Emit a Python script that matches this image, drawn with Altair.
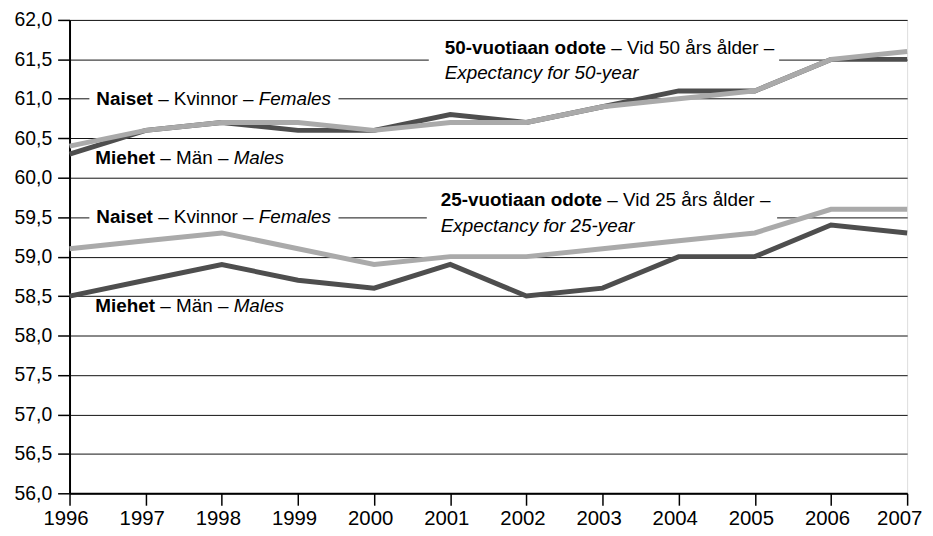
import altair as alt
import pandas as pd

years = list(range(1996, 2008))
m50 = [60.3, 60.6, 60.7, 60.6, 60.6, 60.8, 60.7, 60.9, 61.1, 61.1, 61.5, 61.5]
f50 = [60.4, 60.6, 60.7, 60.7, 60.6, 60.7, 60.7, 60.9, 61.0, 61.1, 61.5, 61.6]
f25 = [59.1, 59.2, 59.3, 59.1, 58.9, 59.0, 59.0, 59.1, 59.2, 59.3, 59.6, 59.6]
m25 = [58.5, 58.7, 58.9, 58.7, 58.6, 58.9, 58.5, 58.6, 59.0, 59.0, 59.4, 59.3]
y_ticks = [56.0 + 0.5 * i for i in range(13)]

DARK = "#4e4e4e"
LIGHT = "#aaaaaa"
FONT = "Liberation Sans"
FS = 19

rows = []
for sex, age, vals in [("m", "50", m50), ("f", "50", f50), ("m", "25", m25), ("f", "25", f25)]:
    for yr, v in zip(years, vals):
        rows.append({"year": yr, "value": v, "sex": sex, "age": age})
df = pd.DataFrame(rows)

X0, Y0 = 70, 18  # page position of plot origin
W, H = 844, 495 - Y0

xs = alt.Scale(domain=[1996, 2007], nice=False, zero=False)
ys = alt.Scale(domain=[56, 62], nice=False, zero=False)

base = alt.Chart(df)

lines = []
for sex, col in [("m", DARK), ("f", LIGHT)]:
    lines.append(
        base.transform_filter(alt.datum.sex == sex)
        .mark_line(color=col, strokeWidth=5, strokeJoin="miter", strokeCap="butt")
        .encode(
            x=alt.X("year:Q", scale=xs,
                    axis=alt.Axis(values=years, format="d", title=None, grid=False,
                                  labelFontSize=20.5, labelFont=FONT, labelColor="black",
                                  labelFlush=False,
                                  tickSize=12, tickColor="black", tickWidth=1.5,
                                  domainColor="black", domainWidth=2, labelPadding=3,
                                  labelOffset={"condition": {"test": "datum.value == 2007", "value": -8}, "value": -4})),
            y=alt.Y("value:Q", scale=ys,
                    axis=alt.Axis(values=y_ticks, title=None,
                                  labelExpr="replace(format(datum.value, '.1f'), '.', ',')",
                                  labelFontSize=19.5, labelFont=FONT, labelColor="black",
                                  labelFlush=False,
                                  tickSize=12, tickColor="black", tickWidth=1.5,
                                  domainColor="black", domainWidth=2, labelPadding=6,
                                  gridColor="#111111", gridWidth=1)),
            detail="age:N",
        )
    )

# white masks that interrupt gridlines behind labels (page coords)
masks_px = [(90, 341, 90, 102), (90, 341, 209, 221), (432, 785, 51, 63), (430, 783, 209, 221)]
masks = []
for (a, b, c, d) in masks_px:
    masks.append(
        alt.Chart(pd.DataFrame({"k": [0]})).mark_rect(fill="white")
        .encode(x=alt.value(a - X0), x2=alt.value(b - X0), y=alt.value(c - Y0), y2=alt.value(d - Y0))
    )

REG = {' ': 278, '–': 556, '-': 333, 'K': 667, 'v': 500, 'i': 222, 'n': 556, 'o': 556, 'r': 333,
       'M': 833, 'ä': 556, 'a': 556, 'V': 667, 'd': 556, 'å': 556, 'l': 222, 'e': 556, 's': 500,
       'E': 667, 'x': 500, 'p': 556, 'c': 500, 't': 278, 'y': 500, 'f': 278, 'F': 611, 'm': 833, 'u': 556}
BOLD = {' ': 278, '–': 556, '-': 333, 'N': 722, 'M': 833, 'a': 556, 'i': 278, 's': 556, 'e': 556,
        't': 333, 'h': 611, 'v': 556, 'u': 611, 'o': 611, 'n': 611, 'd': 611}


def tw(s, bold):
    tab = BOLD if bold else REG
    return sum(tab.get(ch, 556) for ch in s) * FS / 1000.0


# label lines: (x, baseline y, [(text, style)])
label_lines = [
    (97, 104, [("Naiset", "b"), (" – Kvinnor – ", "n"), ("Females", "i")]),
    (96, 163, [("Miehet", "b"), (" – Män – ", "n"), ("Males", "i")]),
    (448, 52, [("50-vuotiaan odote", "b"), (" – Vid 50 års ålder –", "n")]),
    (448, 78, [("Expectancy for 50-year", "i")]),
    (97, 223, [("Naiset", "b"), (" – Kvinnor – ", "n"), ("Females", "i")]),
    (444, 206, [("25-vuotiaan odote", "b"), (" – Vid 25 års ålder –", "n")]),
    (444, 232, [("Expectancy for 25-year", "i")]),
    (96, 312, [("Miehet", "b"), (" – Män – ", "n"), ("Males", "i")]),
]

texts = []
for (x, y, segs) in label_lines:
    cx = x
    for (t, st) in segs:
        kw = dict(align="left", baseline="alphabetic", font=FONT, fontSize=FS, color="black")
        if st == "b":
            kw["fontWeight"] = "bold"
        if st == "i":
            kw["fontStyle"] = "italic"
        lead = len(t) - len(t.lstrip(" "))
        shown = t.strip(" ")
        px = cx + tw(" " * lead, st == "b")
        texts.append(
            alt.Chart(pd.DataFrame({"t": [shown]})).mark_text(**kw)
            .encode(x=alt.value(px - X0), y=alt.value(y - Y0), text="t:N")
        )
        cx += tw(t, st == "b")

chart = alt.layer(*(masks + lines + texts)).properties(
    width=W, height=H,
    autosize=alt.AutoSizeParams(type="none"),
    padding={"left": X0 - 8, "top": Y0 - 8, "right": 18, "bottom": 38},
).configure_view(stroke="black", strokeWidth=2).configure(background="white")

chart.save("out.html", embed_options={"renderer": "svg", "actions": False})
